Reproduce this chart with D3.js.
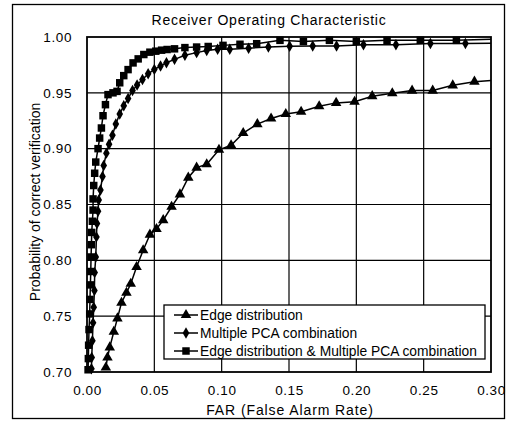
<!DOCTYPE html>
<html>
<head>
<meta charset="utf-8">
<script src="https://cdn.jsdelivr.net/npm/d3@7"></script>
<style>
  body { margin: 0; background: #fff; }
  svg text { font-family: "Liberation Sans", Arial, sans-serif; fill: #000; }
</style>
</head>
<body>
<svg id="chart" width="514" height="426"></svg>
<script>
// chart values
var xTicks = [0, 0.05, 0.10, 0.15, 0.20, 0.25, 0.30];
var yTicks = [0.70, 0.75, 0.80, 0.85, 0.90, 0.95, 1.00];

var edgeFar = [0.0140, 0.0152, 0.0169, 0.0199, 0.0226, 0.0256, 0.0293, 0.0325, 0.0368, 0.0417,
  0.0467, 0.0516, 0.0566, 0.0628, 0.069, 0.0752, 0.0814, 0.0889, 0.098, 0.107,
  0.116, 0.1265, 0.1367, 0.1476, 0.159, 0.1724, 0.185, 0.1987, 0.2118, 0.2267,
  0.2414, 0.2567, 0.2716, 0.2877, 0.30];
var edgeProb = [0.704, 0.713, 0.722, 0.736, 0.748, 0.762, 0.771, 0.779, 0.794, 0.809,
  0.823, 0.828, 0.836, 0.848, 0.859, 0.874, 0.883, 0.886, 0.899, 0.903,
  0.914, 0.922, 0.927, 0.931, 0.933, 0.938, 0.941, 0.942, 0.947, 0.9496,
  0.952, 0.952, 0.9567, 0.960, 0.961];

var pcaFar = [0.0033, 0.0035, 0.004, 0.0045, 0.005, 0.0055, 0.0057, 0.0065, 0.007, 0.0074,
  0.0082, 0.0087, 0.010, 0.0115, 0.0124, 0.0144, 0.0164, 0.0189, 0.0214, 0.0243,
  0.0273, 0.0305, 0.0338, 0.0372, 0.0412, 0.0454, 0.050, 0.0546, 0.059, 0.065,
  0.0727, 0.0814, 0.0889, 0.097, 0.106, 0.120, 0.1347, 0.1505, 0.1676, 0.1853,
  0.2053, 0.2294, 0.255, 0.281, 0.30];
var pcaProb = [0.703, 0.713, 0.728, 0.744, 0.758, 0.773, 0.789, 0.803, 0.821, 0.833,
  0.844, 0.854, 0.863, 0.875, 0.885, 0.896, 0.904, 0.912, 0.922, 0.931,
  0.9385, 0.945, 0.952, 0.957, 0.962, 0.967, 0.971, 0.974, 0.977, 0.980,
  0.9837, 0.986, 0.988, 0.989, 0.989, 0.990, 0.991, 0.9917, 0.992, 0.992,
  0.993, 0.993, 0.9942, 0.9942, 0.9945];

var bothFar = [0.0008, 0.001, 0.0012, 0.0015, 0.002, 0.0022, 0.0025, 0.0028, 0.003, 0.0033,
  0.0035, 0.004, 0.0045, 0.0045, 0.005, 0.0057, 0.0065, 0.0082, 0.0094, 0.0107,
  0.0119, 0.0137, 0.0156, 0.0193, 0.0223, 0.0243, 0.0273, 0.0305, 0.0342, 0.038,
  0.0422, 0.0467, 0.0511, 0.0554, 0.0595, 0.065, 0.0727, 0.0814, 0.09, 0.101,
  0.1136, 0.126, 0.1433, 0.1607, 0.18, 0.20, 0.2228, 0.2475, 0.2743, 0.30];
var bothProb = [0.702, 0.712, 0.724, 0.738, 0.752, 0.765, 0.778, 0.790, 0.803, 0.814,
  0.825, 0.835, 0.845, 0.855, 0.867, 0.878, 0.888, 0.900, 0.9095, 0.9185,
  0.9295, 0.9394, 0.9484, 0.950, 0.9513, 0.959, 0.9654, 0.9708, 0.9768, 0.9804,
  0.9843, 0.9864, 0.9873, 0.9882, 0.9888, 0.9894, 0.9905, 0.991, 0.9915, 0.9925,
  0.9935, 0.994, 0.997, 0.996, 0.997, 0.996, 0.997, 0.997, 0.997, 0.998];

var seriesNames = ["Edge distribution", "Multiple PCA combination",
  "Edge distribution & Multiple PCA combination"];

(function(){
  var svg = d3.select("#chart");

  // outer frame
  svg.append("rect")
    .attr("x", 12.5).attr("y", 4.5)
    .attr("width", 492).attr("height", 414)
    .attr("fill", "none").attr("stroke", "#000").attr("stroke-width", 1.3);

  var pLeft = 87, pRight = 491, pTop = 37, pBottom = 372;

  var x = d3.scaleLinear().domain([0, 0.30]).range([pLeft, pRight]);
  var y = d3.scaleLinear().domain([0.70, 1.00]).range([pBottom, pTop]);

  // grid
  var grid = svg.append("g");
  grid.selectAll("line.vg").data(xTicks.slice(1, -1)).enter()
    .append("line")
      .attr("class", "vg")
      .attr("x1", function(d){ return x(d); }).attr("x2", function(d){ return x(d); })
      .attr("y1", pTop).attr("y2", pBottom)
      .attr("stroke", "#000").attr("stroke-width", 1.2);
  grid.selectAll("line.hg").data(yTicks.slice(1, -1)).enter()
    .append("line")
      .attr("class", "hg")
      .attr("y1", function(d){ return y(d); }).attr("y2", function(d){ return y(d); })
      .attr("x1", pLeft).attr("x2", pRight)
      .attr("stroke", "#000").attr("stroke-width", 1.2);

  // axes
  var xAxis = svg.append("g")
    .attr("transform", "translate(0," + pBottom + ")")
    .call(d3.axisBottom(x).tickValues(xTicks).tickFormat(d3.format(".2f")).tickSize(0).tickPadding(13));
  var yAxis = svg.append("g")
    .attr("transform", "translate(" + pLeft + ",0)")
    .call(d3.axisLeft(y).tickValues(yTicks).tickFormat(d3.format(".2f")).tickSize(0).tickPadding(15));
  [xAxis, yAxis].forEach(function(a){
    a.select(".domain").remove();
    a.selectAll("text")
      .attr("font-family", null)
      .style("font-size", "13.5px").style("letter-spacing", "0.6px");
  });

  // plot border
  svg.append("rect")
    .attr("x", pLeft).attr("y", pTop)
    .attr("width", pRight - pLeft).attr("height", pBottom - pTop)
    .attr("fill", "none").attr("stroke", "#000").attr("stroke-width", 1.8);

  var line = d3.line()
    .x(function(d){ return x(d[0]); })
    .y(function(d){ return y(d[1]); });

  var symbols = [d3.symbolTriangle, d3.symbolDiamond, d3.symbolSquare];
  var sizes = [48, 38, 56];
  var sets = [d3.zip(edgeFar, edgeProb), d3.zip(pcaFar, pcaProb), d3.zip(bothFar, bothProb)];

  sets.forEach(function(data, i){
    var g = svg.append("g");
    g.append("path")
      .datum(data)
      .attr("d", line)
      .attr("fill", "none").attr("stroke", "#000").attr("stroke-width", 1.5);
    g.selectAll("path.m").data(data.slice(0, -1)).enter()
      .append("path")
        .attr("class", "m")
        .attr("transform", function(d){ return "translate(" + x(d[0]) + "," + y(d[1]) + ")"; })
        .attr("d", d3.symbol().type(symbols[i]).size(sizes[i]))
        .attr("fill", "#000");
  });

  // legend
  var lg = svg.append("g").attr("transform", "translate(164,305)");
  lg.append("rect")
    .attr("width", 321).attr("height", 54)
    .attr("fill", "#fff").attr("stroke", "#000").attr("stroke-width", 1.3);
  seriesNames.forEach(function(name, i){
    var ry = 10 + i * 18;
    lg.append("line")
      .attr("x1", 10).attr("x2", 34).attr("y1", ry).attr("y2", ry)
      .attr("stroke", "#000").attr("stroke-width", 1.5);
    lg.append("path")
      .attr("transform", "translate(22," + ry + ")")
      .attr("d", d3.symbol().type(symbols[i]).size(sizes[i]))
      .attr("fill", "#000");
    lg.append("text")
      .attr("x", 36).attr("y", ry + 5)
      .style("font-size", "13.8px")
      .text(name);
  });

  // titles
  svg.append("text")
    .attr("x", 269).attr("y", 25)
    .attr("text-anchor", "middle")
    .style("font-size", "14px").style("letter-spacing", "0.75px")
    .text("Receiver Operating Characteristic");

  svg.append("text")
    .attr("x", 290).attr("y", 415)
    .attr("text-anchor", "middle")
    .style("font-size", "14px").style("letter-spacing", "0.9px")
    .text("FAR (False Alarm Rate)");

  svg.append("text")
    .attr("transform", "translate(40,202) rotate(-90)")
    .attr("text-anchor", "middle")
    .style("font-size", "14px")
    .text("Probability of correct verification");
})();
</script>
</body>
</html>
